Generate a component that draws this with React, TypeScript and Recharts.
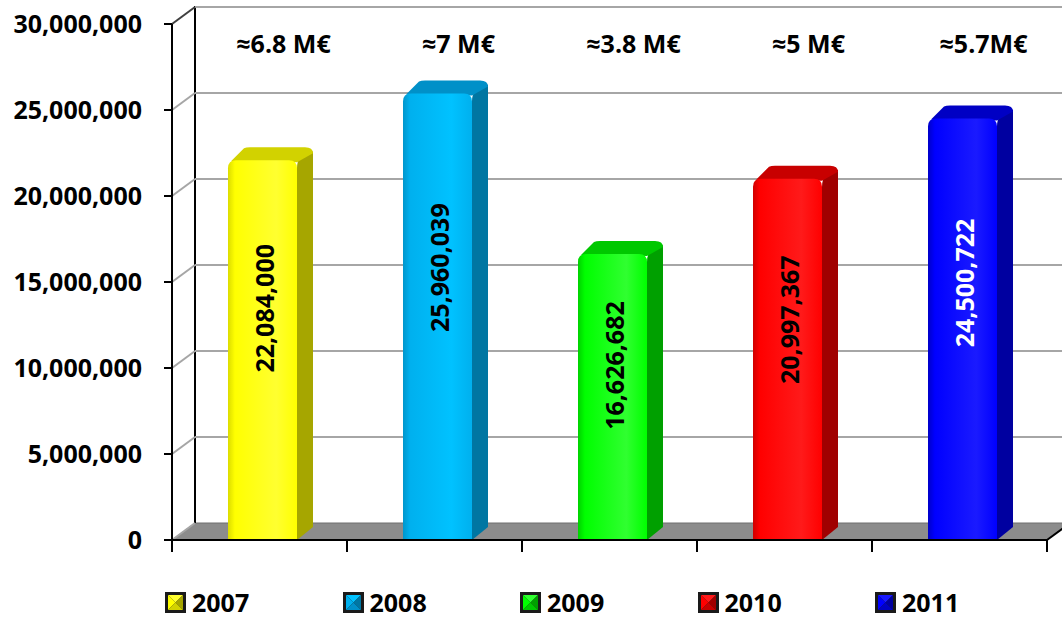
import React from 'react';
import { BarChart, Bar, XAxis, YAxis, CartesianGrid, Legend, LabelList } from 'recharts';

// chart values
const years = ['2007', '2008', '2009', '2010', '2011'];
const amounts = [22084000, 25960039, 16626682, 20997367, 24500722];
const growthNotes = ['≈6.8 M€', '≈7 M€', '≈3.8 M€', '≈5 M€', '≈5.7M€'];
const valueTicks = [0, 5000000, 10000000, 15000000, 20000000, 25000000, 30000000];

const data = years.map((year, i) => ({ name: year, value: amounts[i], note: growthNotes[i] }));

// look of each year's column (front / lighter / top / side / label)
const palette = [
  { edge: '#dcdc00', front: '#ffff00', bright: '#ffff30', top: '#d2d200', side: '#a6a600', label: '#000' },
  { edge: '#0096cc', front: '#00b0ee', bright: '#00c2ff', top: '#0090c8', side: '#0076a2', label: '#000' },
  { edge: '#00d000', front: '#00ff00', bright: '#30ff30', top: '#00c800', side: '#00a000', label: '#000' },
  { edge: '#d00000', front: '#ff0000', bright: '#ff1a1a', top: '#c80000', side: '#a00000', label: '#000' },
  { edge: '#0000c8', front: '#0000ff', bright: '#1a1aff', top: '#0000c4', side: '#0000a0', label: '#fff' },
];

const FONT = '"Open Sans", "Liberation Sans", sans-serif';
const FONT_SIZE = 25;
const WALL_DX = 23;
const WALL_DY = 17;
const BAR_DX = 16;
const BAR_DY = 13;
const BAR_SHIFT = 3;
const NOTE_Y = 43;

const Bar3D = (props: any) => {
  const { x, y, width, height, index } = props;
  const c = palette[index % palette.length];
  const bx = x + BAR_SHIFT;
  const r = 8;
  const bottom = y + height;
  const gid = `front-grad-${index}`;
  const front = `M${bx},${bottom} L${bx},${y + r} Q${bx},${y} ${bx + r},${y} L${bx + width - r},${y} Q${bx + width},${y} ${bx + width},${y + r} L${bx + width},${bottom} Z`;
  const side = `M${bx + width},${y + r} Q${bx + width},${y} ${bx + width + 4},${y - 3} L${bx + width + BAR_DX},${y - BAR_DY + 4} L${bx + width + BAR_DX},${bottom - BAR_DY} L${bx + width},${bottom} Z`;
  const top = `M${bx + 3},${y + 1} L${bx + BAR_DX},${y - BAR_DY + 1} Q${bx + BAR_DX + 2},${y - BAR_DY} ${bx + BAR_DX + 6},${y - BAR_DY} L${bx + width + BAR_DX - 8},${y - BAR_DY} Q${bx + width + BAR_DX},${y - BAR_DY} ${bx + width + BAR_DX},${y - BAR_DY + 6} L${bx + width},${y + 2} Z`;
  return (
    <g>
      <defs>
        <linearGradient id={gid} x1="0" y1="0" x2="1" y2="0">
          <stop offset="0%" stopColor={c.edge} />
          <stop offset="10%" stopColor={c.front} />
          <stop offset="70%" stopColor={c.bright} />
          <stop offset="100%" stopColor={c.front} />
        </linearGradient>
      </defs>
      <path d={side} fill={c.side} />
      <path d={top} fill={c.top} />
      <path d={front} fill={`url(#${gid})`} />
    </g>
  );
};

const renderValue = (props: any) => {
  const vb = props.viewBox || props;
  const { x, y, width, height } = vb;
  const idx = props.index ?? 0;
  const cx = x + BAR_SHIFT + width / 2 + 2;
  const cy = y + height * 0.39;
  return (
    <text
      x={cx}
      y={cy}
      transform={`rotate(-90 ${cx} ${cy})`}
      textAnchor="middle"
      dominantBaseline="central"
      fill={palette[idx % palette.length].label}
      fontFamily={FONT}
      fontSize={FONT_SIZE}
      fontWeight={700}
    >
      {Number(props.value).toLocaleString('en-US')}
    </text>
  );
};

const renderNote = (props: any) => {
  const vb = props.viewBox || props;
  const { x, width } = vb;
  const cx = x + width / 2 + 24;
  return (
    <text x={cx} y={NOTE_Y} textAnchor="middle" dominantBaseline="central" fill="#000" fontFamily={FONT} fontSize={FONT_SIZE} fontWeight={700}>
      {props.value}
    </text>
  );
};

// back wall lines, side diagonals and the floor, hung on the y ticks
const wallLine = (props: any) => {
  const { x1, y1, x2, y, height, index } = props;
  const bx = x1 + WALL_DX;
  const by = y1 - WALL_DY;
  const isFloor = Math.abs(y1 - (y + height)) < 1;
  const isTop = Math.abs(y1 - y) < 1;
  return (
    <g key={`wall-${index}`}>
      {isFloor && (
        <>
          <polygon
            points={`${x1},${y1} ${x2},${y1} ${x2 + WALL_DX},${by} ${bx},${by}`}
            fill="#8c8c8c"
            stroke="#6e6e6e"
            strokeWidth={1}
          />
          <line x1={x2} y1={y1} x2={x2 + WALL_DX} y2={by} stroke="#000" strokeWidth={2} />
          <line x1={bx} y1={by} x2={bx} y2={y - WALL_DY - 1} stroke="#000" strokeWidth={2} />
        </>
      )}
      {!isFloor && <line x1={bx} y1={by} x2={x2 + 40} y2={by} stroke="#a6a6a6" strokeWidth={2} />}
      <line x1={x1} y1={y1} x2={bx} y2={by} stroke={isTop ? '#404040' : '#a6a6a6'} strokeWidth={2} />
    </g>
  );
};

// category ticks sit on the slot edges, not the centres
const SlotTick = (props: any) => {
  const { x, y, payload, index, visibleTicksCount, width } = props;
  const half = payload?.offset || width / visibleTicksCount / 2;
  const last = index === visibleTicksCount - 1;
  return (
    <g>
      <line x1={x - half} y1={y} x2={x - half} y2={y + 12} stroke="#000" strokeWidth={2} />
      {last && <line x1={x + half} y1={y} x2={x + half} y2={y + 12} stroke="#000" strokeWidth={2} />}
    </g>
  );
};

const LegendSwatch = ({ c }: { c: (typeof palette)[number] }) => (
  <svg width={21} height={21} style={{ display: 'block' }}>
    <rect x={0} y={0} width={21} height={21} fill="#1a1a1a" />
    <polygon points="3,3 18,3 10.5,10.5" fill={c.bright} />
    <polygon points="3,3 3,18 10.5,10.5" fill={c.front} />
    <polygon points="18,3 18,18 10.5,10.5" fill={c.side} />
    <polygon points="3,18 18,18 10.5,10.5" fill={c.top} />
  </svg>
);

const renderLegend = () => (
  <div style={{ height: 52, position: 'relative', fontFamily: FONT }}>
    {years.map((year, i) => (
      <div
        key={year}
        style={{ position: 'absolute', left: 165 + i * 177.5, top: 32, display: 'flex', alignItems: 'center' }}
      >
        <LegendSwatch c={palette[i]} />
        <span style={{ marginLeft: 6, fontSize: FONT_SIZE, fontWeight: 700, lineHeight: '21px', color: '#000' }}>{year}</span>
      </div>
    ))}
  </div>
);

export default function App() {
  return (
    <div style={{ position: 'absolute', left: 0, top: 0, width: 1062, height: 621, background: '#fff' }}>
      <BarChart width={1062} height={621} data={data} margin={{ top: 24, right: 15, left: 0, bottom: 9 }}>
        <CartesianGrid vertical={false} horizontal={wallLine} />
        <XAxis
          dataKey="name"
          height={20}
          interval={0}
          tickSize={0}
          tickMargin={0}
          tickLine={false}
          tick={<SlotTick />}
          axisLine={{ stroke: '#000', strokeWidth: 2 }}
        />
        <YAxis
          type="number"
          domain={[0, 30000000]}
          ticks={valueTicks}
          interval={0}
          width={172}
          tickSize={8}
          tickMargin={22}
          tickFormatter={(v: number) => v.toLocaleString('en-US')}
          tick={{ fill: '#000', fontSize: FONT_SIZE, fontWeight: 700, fontFamily: FONT }}
          axisLine={{ stroke: '#000', strokeWidth: 2 }}
          tickLine={{ stroke: '#000', strokeWidth: 2 }}
        />
        <Legend verticalAlign="bottom" content={renderLegend} wrapperStyle={{ left: 0, width: 1062 }} />
        <Bar dataKey="value" barSize={69} shape={Bar3D} isAnimationActive={false}>
          <LabelList dataKey="value" content={renderValue} />
          <LabelList dataKey="note" content={renderNote} />
        </Bar>
      </BarChart>
    </div>
  );
}
